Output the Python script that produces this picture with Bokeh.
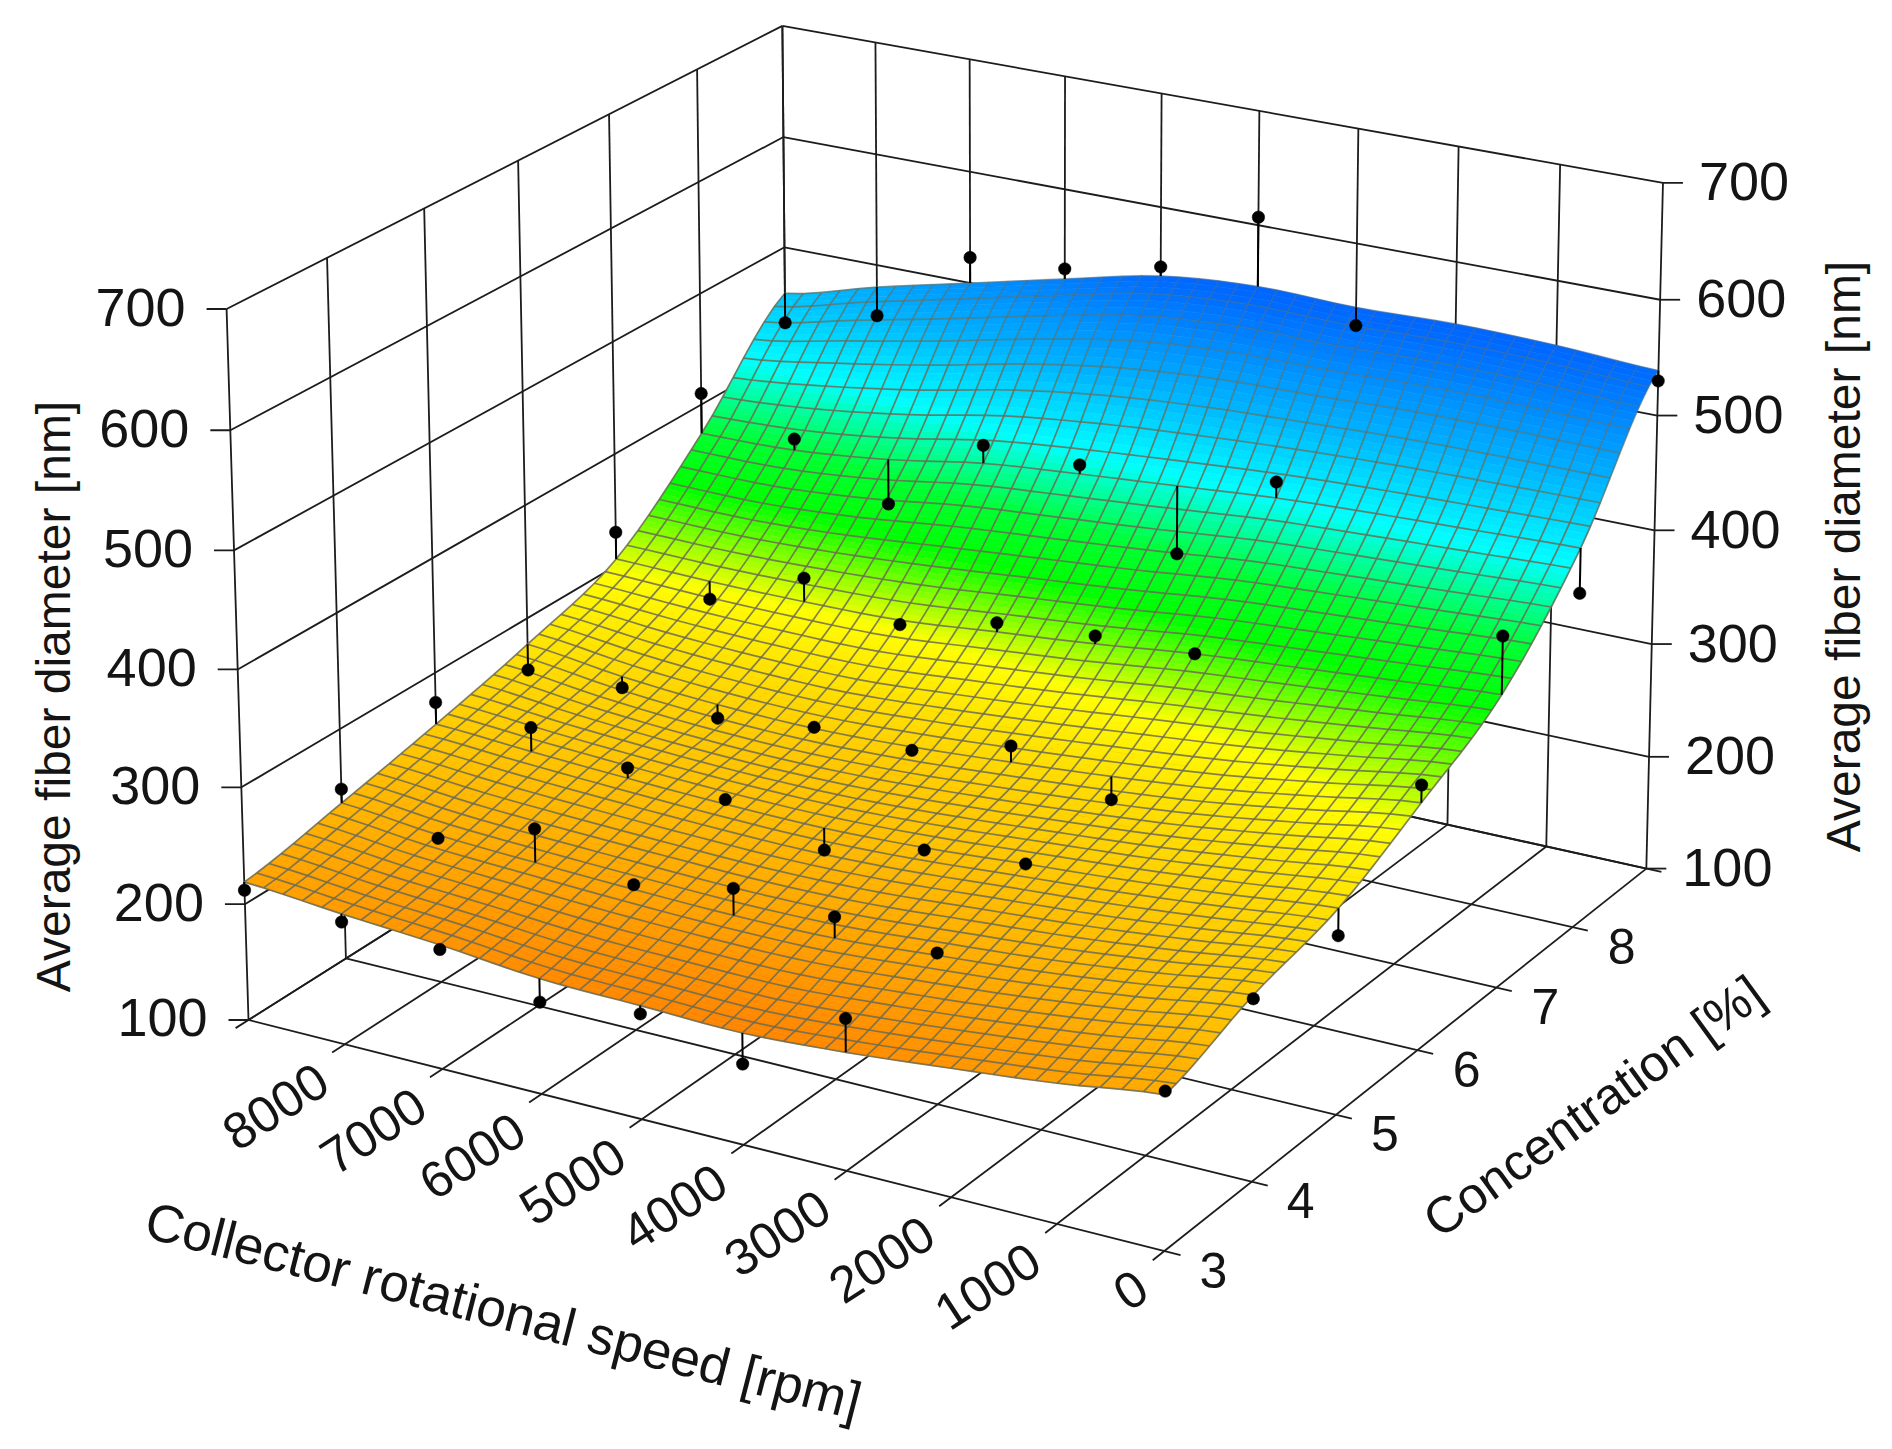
import numpy as np
from bokeh.plotting import figure
from bokeh.models import Range1d, ColumnDataSource
from bokeh.core.properties import value
from bokeh.embed import file_html
from bokeh.resources import INLINE

# ---- chart values -------------------------------------------------------
speeds = [9000, 8000, 7000, 6000, 5000, 4000, 3000, 2000, 1000, 0]
concentrations = [3, 4, 5, 6, 7, 8, 9]
diameter_ticks = [100, 200, 300, 400, 500, 600, 700]
speed_labels = ["8000", "7000", "6000", "5000", "4000", "3000", "2000", "1000", "0"]
speed_label_values = [8000, 7000, 6000, 5000, 4000, 3000, 2000, 1000, 0]
conc_labels = ["3", "4", "5", "6", "7", "8"]
conc_label_values = [3, 4, 5, 6, 7, 8]
z_title = "Average fiber diameter [nm]"
speed_title = "Collector rotational speed [rpm]"
conc_title = "Concentration [%]"

# fitted surface read at each speed (columns) for each concentration (rows)
surface_c3 = [219, 212, 206, 198, 196, 194, 199, 207, 216, 228]
surface_c4 = [236, 228, 224, 221, 219, 220, 226, 233, 243, 255]
surface_c5 = [255, 250, 246, 243, 242, 245, 251, 257, 265, 274]
surface_c6 = [277, 267, 261, 259, 262, 268, 275, 284, 297, 311]
surface_c7 = [306, 304, 304, 306, 314, 322, 332, 339, 346, 353]
surface_c8 = [374, 376, 385, 399, 407, 414, 421, 425, 428, 431]
surface_c9 = [458, 480, 500, 520, 539, 546, 544, 546, 544, 539]

# measured points (None: hidden under the surface in the picture)
N = None
points_c3 = [212, 205, 202, 178, 189, 168, 227, N, N, 231]
points_c4 = [248, 225, 253, 225, 242, 238, 228, N, N, 252]
points_c5 = [274, 271, 255, 247, 223, 243, 251, N, N, 251]
points_c6 = [254, 257, 249, 260, 259, 282, 255, N, N, 326]
points_c7 = [330, 288, 325, 302, 322, 329, 332, N, N, 403]
points_c8 = [410, 386, 345, 415, 415, 354, 435, N, N, 392]
points_c9 = [431, 454, 523, 529, 547, 607, 528, N, N, 530]

surface = np.array([surface_c3, surface_c4, surface_c5, surface_c6, surface_c7, surface_c8, surface_c9], float)
points = [points_c3, points_c4, points_c5, points_c6, points_c7, points_c8, points_c9]

# ---- camera: reference marks of the box (speed, conc, diameter -> page px) --
cam_s = [9000, 0, 0, 9000, 9000, 9000, 0, 9000, 9000, 9000, 9000, 9000, 0, 0, 0, 0, 8000, 7000, 6000, 5000, 4000, 3000, 2000, 1000, 0, 0, 0, 0, 0]
cam_c = [3, 3, 9, 3, 9, 3, 9, 9, 3, 3, 3, 3, 9, 9, 9, 9, 3, 3, 3, 3, 3, 3, 3, 3, 4, 5, 6, 7, 8]
cam_z = [100, 100, 100, 700, 700, 600, 600, 600, 500, 400, 300, 200, 500, 400, 300, 700, 100, 100, 100, 100, 100, 100, 100, 100, 100, 100, 100, 100, 100]
cam_u = [248, 1163, 1645, 227, 781, 230, 1660, 782, 234, 237, 240, 244, 1657, 1654, 1651, 1663, 346, 443, 542, 643, 743.5, 842, 949, 1055, 1252, 1337, 1418, 1496, 1573]
cam_v = [1020, 1251, 867, 308, 25, 429, 300, 137, 549, 669, 787, 903, 416, 530, 643, 183, 1044.5, 1070, 1093.5, 1119, 1145, 1170, 1196, 1224, 1180, 1115, 1049, 987, 926]


def fit_camera():
    rows = []
    for s, c, z, u, v in zip(cam_s, cam_c, cam_z, cam_u, cam_v):
        a, b, d = s / 9000, (c - 3) / 6, (z - 100) / 600
        rows.append([a, b, d, 1, 0, 0, 0, 0, -u * a, -u * b, -u * d, -u])
        rows.append([0, 0, 0, 0, a, b, d, 1, -v * a, -v * b, -v * d, -v])
    return np.linalg.svd(np.array(rows))[2][-1].reshape(3, 4)


P = fit_camera()


def proj(s, c, z):
    s, c, z = np.broadcast_arrays(np.asarray(s, float), np.asarray(c, float), np.asarray(z, float))
    X = np.stack([s / 9000, (c - 3) / 6, (z - 100) / 600, np.ones_like(s, dtype=float)], -1)
    h = X @ P.T
    return h[..., 0] / h[..., 2], h[..., 1] / h[..., 2]


# ---- smooth rendering of the surface between the read values ---------------
def cr_weights(t, n):
    W = np.zeros((len(t), n))
    for r, x in enumerate(t):
        i = min(int(np.floor(x)), n - 2)
        u = x - i
        w = [(-u + 2 * u**2 - u**3) / 2, (2 - 5 * u**2 + 3 * u**3) / 2,
             (u + 4 * u**2 - 3 * u**3) / 2, (-u**2 + u**3) / 2]
        for o, wi in zip((-1, 0, 1, 2), w):
            W[r, int(np.clip(i + o, 0, n - 1))] += wi
    return W


NS, NC, SUB = 45, 48, 3
tk = np.linspace(0, 9, NS + 1)
tj = np.linspace(0, 6, NC * SUB + 1)
Zs = cr_weights(tj, 7) @ surface @ cr_weights(tk, 10).T
SS, CC = np.meshgrid(9000 - tk * 1000, 3 + tj)
UU, VV = proj(SS, CC, Zs)

stops_z = [150, 195, 300, 345, 375, 420, 470, 540, 600]
stops_r = [255, 255, 255, 0, 0, 0, 0, 0, 0]
stops_g = [100, 135, 255, 255, 255, 255, 180, 105, 70]
stops_b = [0, 0, 0, 0, 50, 255, 255, 255, 255]


def colour(z):
    r = np.interp(z, stops_z, stops_r)
    g = np.interp(z, stops_z, stops_g)
    b = np.interp(z, stops_z, stops_b)
    return "#%02x%02x%02x" % (int(r), int(g), int(b))


xs, ys, fills = [], [], []
for j in range(NC * SUB - 1, -1, -1):
    for k in range(NS):
        xs.append([UU[j, k], UU[j, k + 1], UU[j + 1, k + 1], UU[j + 1, k]])
        ys.append([VV[j, k], VV[j, k + 1], VV[j + 1, k + 1], VV[j + 1, k]])
        fills.append(colour(Zs[j:j + 2, k:k + 2].mean()))

mx0, my0, mx1, my1, mal = [], [], [], [], []


def mesh_alpha(z):
    return float(np.interp(z, [430, 530], [0.85, 0.3]))


for j in range(0, NC * SUB + 1, SUB):
    for k in range(NS):
        mx0.append(UU[j, k]); my0.append(VV[j, k]); mx1.append(UU[j, k + 1]); my1.append(VV[j, k + 1])
        mal.append(mesh_alpha(Zs[j, k]))
for k in range(NS + 1):
    for j in range(0, NC * SUB, SUB):
        mx0.append(UU[j, k]); my0.append(VV[j, k]); mx1.append(UU[j + SUB, k]); my1.append(VV[j + SUB, k])
        mal.append(mesh_alpha(Zs[j, k]))

# ---- figure -----------------------------------------------------------------
W, H = 1876, 1433
p = figure(width=W, height=H, x_range=Range1d(0, W), y_range=Range1d(H, 0),
           output_backend="svg", toolbar_location=None, min_border=0)
p.axis.visible = False
p.grid.visible = False
p.outline_line_color = None
p.background_fill_color = "white"

bx, by = [], []


def seg(a, b):
    u, v = proj([a[0], b[0]], [a[1], b[1]], [a[2], b[2]])
    bx.append(u.tolist())
    by.append(v.tolist())


S_MAX, S_MIN, C_MIN, C_MAX = 9000, 0, 3, 9
Z_MIN, Z_MAX = 100, 700
for s in speeds:
    seg((s, C_MIN - 0.13, Z_MIN), (s, C_MAX, Z_MIN))
    seg((s, C_MAX, Z_MIN), (s, C_MAX, Z_MAX))
for c in concentrations:
    seg((S_MIN - 150, c, Z_MIN), (S_MAX, c, Z_MIN))
    seg((S_MAX, c, Z_MIN), (S_MAX, c, Z_MAX))
for z in diameter_ticks:
    seg((S_MAX, C_MIN, z), (S_MAX, C_MAX, z))
    seg((S_MAX, C_MAX, z), (S_MIN, C_MAX, z))
for z in diameter_ticks:
    u, v = proj(S_MAX, C_MIN, z)
    bx.append([float(u) - 20, float(u)])
    by.append([float(v), float(v)])
    u, v = proj(S_MIN, C_MAX, z)
    bx.append([float(u), float(u) + 20])
    by.append([float(v), float(v)])
p.multi_line(bx, by, line_color="#1c1c1c", line_width=1.8)

# surface
p.patches("xs", "ys", source=ColumnDataSource(dict(xs=xs, ys=ys, fc=fills)),
          fill_color="fc", line_color="fc", line_width=0.6)
p.segment("x0", "y0", "x1", "y1", source=ColumnDataSource(dict(x0=mx0, y0=my0, x1=mx1, y1=my1, la=mal)),
          line_color="#6b6b55", line_alpha="la", line_width=1.7)

# points and their stems
px, py, sx0, sy0, sx1, sy1 = [], [], [], [], [], []
for j, c in enumerate(concentrations):
    for k, s in enumerate(speeds):
        z = points[j][k]
        if z is None:
            continue
        u, v = proj(s, c, z)
        u2, v2 = proj(s, c, surface[j, k])
        px.append(float(u)); py.append(float(v))
        sx0.append(float(u)); sy0.append(float(v))
        sx1.append(float(u2)); sy1.append(float(v2))
p.segment(sx0, sy0, sx1, sy1, line_color="black", line_width=2)
p.scatter(px, py, size=12.5, marker="circle", fill_color="black", line_color="black", line_width=0.5)

FONT = value("Liberation Sans")
COL = "#141414"


def label(x, y, t, angle=0.0, align="center", size="48px", base="middle"):
    p.text(x=[float(x)], y=[float(y)], text=[t], angle=np.deg2rad(angle), text_align=align,
           text_baseline=base, text_font=FONT, text_font_size=size, text_color=COL)


for z in diameter_ticks:
    u, v = proj(S_MAX, C_MIN, z)
    label(u - 41, v - 2, str(z), align="right", size="54px")
    u, v = proj(S_MIN, C_MAX, z)
    label(u + 36, v - 1, str(z), align="left", size="54px")
for s, t in zip(speed_label_values, speed_labels):
    u, v = proj(s, C_MIN, Z_MIN)
    label(u - 22, v + 31, t, angle=33, align="right", size="51px")
for c, t in zip(conc_label_values, conc_labels):
    u, v = proj(S_MIN, c, Z_MIN)
    label(u + 49, v + 19, t, size="50px")
label(53, 696, z_title, angle=90)
label(1843, 556, z_title, angle=90)
label(503, 1310, speed_title, angle=-14.4, size="53px")
label(1593, 1106, conc_title, angle=36, size="51px")

open("out.html", "w").write(file_html(p, INLINE))
